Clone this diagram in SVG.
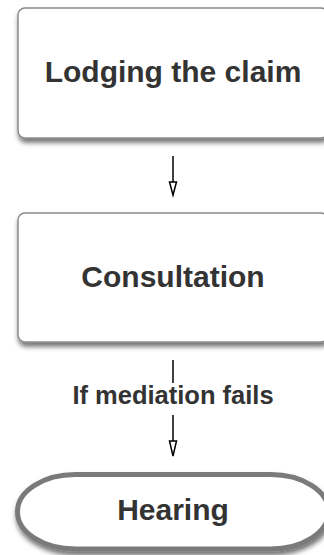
<svg xmlns="http://www.w3.org/2000/svg" width="324" height="555" viewBox="0 0 324 555">
<defs>
<filter id="sh" x="-10%" y="-20%" width="120%" height="150%">
<feDropShadow dx="1" dy="4" stdDeviation="2.5" flood-color="#000" flood-opacity="0.55"/>
</filter>
</defs>
<style>
.box{fill:#fff;stroke:#8a8a8a;stroke-width:1.5;filter:url(#sh)}
.term{fill:#fff;stroke:#7a7a7a;stroke-width:5;filter:url(#sh)}
.t{font-family:"Liberation Sans",Arial,sans-serif;font-weight:bold;font-size:30px;fill:#333;text-anchor:middle}
.lbl{font-family:"Liberation Sans",Arial,sans-serif;font-weight:bold;font-size:25.5px;fill:#333;text-anchor:middle}
.c{stroke:#000;stroke-width:1.5;fill:none}
.head{fill:#fff;stroke:#000;stroke-width:1.5}
</style>
<rect width="324" height="555" fill="#fff"/>
<g id="connectors">
<line class="c" x1="173" y1="156" x2="173" y2="182"/>
<path class="head" d="M169.5,182 L176.5,182 L173,195 Z"/>
<line class="c" x1="173" y1="360" x2="173" y2="383"/>
<line class="c" x1="173" y1="415" x2="173" y2="441"/>
<path class="head" d="M169.5,441 L176.5,441 L173,456 Z"/>
<text class="lbl" x="173" y="404">If mediation fails</text>
</g>
<g id="node-lodging">
<rect class="box" x="18" y="8" width="310" height="130" rx="7"/>
<text class="t" x="173" y="82">Lodging the claim</text>
</g>
<g id="node-consultation">
<rect class="box" x="18" y="213" width="310" height="129" rx="7"/>
<text class="t" x="173" y="287">Consultation</text>
</g>
<g id="node-hearing">
<rect class="term" x="17.5" y="474.5" width="311" height="74.5" rx="58" ry="37"/>
<text class="t" x="173" y="520">Hearing</text>
</g>
</svg>
